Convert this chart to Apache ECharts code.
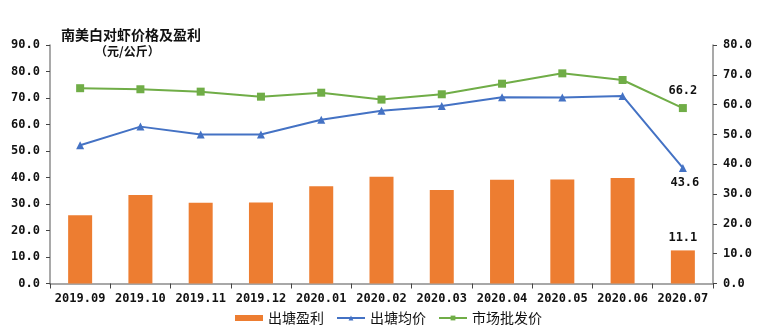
<!DOCTYPE html>
<html><head><meta charset="utf-8">
<script src="https://cdn.jsdelivr.net/npm/echarts@6/dist/echarts.min.js"></script>
<style>html,body{margin:0;padding:0;background:#fff}#c{width:762px;height:328px}</style>
</head><body><div id="c"></div>
<script>
const categories = ['2019.09','2019.10','2019.11','2019.12','2020.01','2020.02','2020.03','2020.04','2020.05','2020.06','2020.07'];
const profit = [22.9, 29.7, 27.1, 27.2, 32.6, 35.8, 31.4, 34.8, 34.9, 35.4, 11.1];
const pondPrice = [52.2, 59.2, 56.2, 56.2, 61.8, 65.2, 67.0, 70.3, 70.2, 70.8, 43.6];
const wholesale = [73.7, 73.3, 72.4, 70.5, 72.0, 69.4, 71.4, 75.4, 79.3, 76.8, 66.2];
const leftTicks = {min: 0, max: 90, interval: 10};
const rightTicks = {min: 0, max: 80, interval: 10};
const seriesNames = ['出塘盈利','出塘均价','市场批发价'];

const numFont = {fontFamily: 'DejaVu Sans Mono', fontWeight: 'bold', fontSize: 12, color: '#111'};
function lastLabel(arr, pos, offset) {
  return arr.map((v, i) => i === arr.length - 1
    ? {value: v, label: Object.assign({show: true, position: pos, offset: offset, formatter: p => p.value.toFixed(1)}, numFont)}
    : v);
}
const axisGray = '#8c8c8c';
const chart = echarts.init(document.getElementById('c'));
chart.setOption({
  animation: false,
  title: [
    {text: '南美白对虾价格及盈利', left: 56, top: 23, textStyle: {fontFamily: 'Noto Sans CJK SC', fontSize: 14, fontWeight: 'bold', color: '#111'}},
    {text: '（元/公斤）', left: 90, top: 40, textStyle: {fontFamily: 'Noto Sans CJK SC', fontSize: 12, fontWeight: 'bold', color: '#111'}}
  ],
  grid: {left: 50, right: 49, top: 45, bottom: 44.5, containLabel: false},
  legend: {
    left: 230, top: 306, itemWidth: 28, itemHeight: 6, itemGap: 12,
    textStyle: {fontFamily: 'Noto Sans CJK SC', fontSize: 14, color: '#111'},
    data: [{name: seriesNames[0], icon: 'rect'}, {name: seriesNames[1]}, {name: seriesNames[2]}]
  },
  xAxis: {
    type: 'category', data: categories, boundaryGap: true,
    axisLine: {lineStyle: {color: axisGray, width: 1.5}},
    axisTick: {show: true, length: 5, lineStyle: {color: '#444'}},
    axisLabel: Object.assign({margin: 9, interval: 0}, numFont)
  },
  yAxis: [
    Object.assign({type: 'value', position: 'left',
      axisLine: {show: true, lineStyle: {color: axisGray, width: 1.5}},
      axisTick: {show: true, length: 4, lineStyle: {color: '#444'}},
      splitLine: {show: false},
      axisLabel: Object.assign({margin: 10, formatter: v => v.toFixed(1)}, numFont)}, leftTicks),
    Object.assign({type: 'value', position: 'right',
      axisLine: {show: true, lineStyle: {color: axisGray, width: 1.5}},
      axisTick: {show: true, length: 4, lineStyle: {color: '#444'}},
      splitLine: {show: false},
      axisLabel: Object.assign({margin: 10, formatter: v => v.toFixed(1)}, numFont)}, rightTicks)
  ],
  series: [
    {name: seriesNames[0], type: 'bar', yAxisIndex: 1, barWidth: 24,
     itemStyle: {color: '#ED7D31'}, data: lastLabel(profit, 'top', [0, -2])},
    {name: seriesNames[1], type: 'line', yAxisIndex: 0, symbol: 'triangle', symbolSize: 8,
     lineStyle: {color: '#4472C4', width: 2}, itemStyle: {color: '#4472C4'},
     data: lastLabel(pondPrice, 'bottom', [2, 0])},
    {name: seriesNames[2], type: 'line', yAxisIndex: 0, symbol: 'rect', symbolSize: 8,
     lineStyle: {color: '#70AD47', width: 2}, itemStyle: {color: '#70AD47'},
     data: lastLabel(wholesale, 'top', [0, -2])}
  ]
});
</script></body></html>
